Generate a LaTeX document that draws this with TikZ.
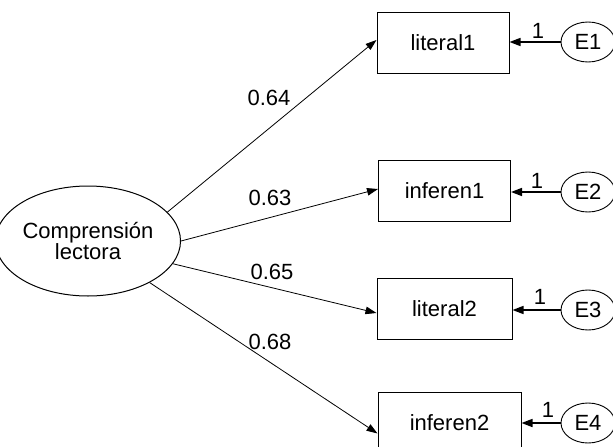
\documentclass[tikz,border=0pt]{standalone}
\usepackage{fontspec}
\setmainfont{Liberation Sans}
\usetikzlibrary{arrows.meta,shapes.geometric}
\begin{document}
\begin{tikzpicture}[x=1pt,y=-1pt,
  txt/.style={font=\fontsize{22}{21}\selectfont},
  obs/.style={draw,line width=1pt,minimum width=132pt,minimum height=61pt,inner sep=0pt,txt},
  err/.style={draw,ellipse,line width=0.9pt,minimum width=54pt,minimum height=40pt,inner sep=0pt,txt},
  path/.style={line width=0.8pt,-{Triangle[length=11pt,width=7.5pt]}},
  epath/.style={line width=1.6pt,-{Triangle[length=11pt,width=8pt]}},
  lab/.style={txt,inner sep=0pt}]
\useasboundingbox (0,0) rectangle (613,447);
\node[draw,ellipse,line width=1pt,minimum width=160pt,minimum height=110pt,inner sep=0pt,txt,align=center] (CL) at (88,241) {Comprensión\\lectora};
\node[obs] (lit1) at (443,42.5) {literal1};
\node[obs,minimum width=132pt] (inf1) at (444.5,191) {inferen1};
\node[obs,minimum width=135pt] (lit2) at (444.5,309) {literal2};
\node[obs,minimum width=143pt] (inf2) at (449.5,422.5) {inferen2};
\node[err] (E1) at (588,42) {E1};
\node[err] (E2) at (588,192) {E2};
\node[err] (E3) at (588,310) {E3};
\node[err] (E4) at (588,423) {E4};
\draw[path] (CL.20) -- ([yshift=2.5pt]lit1.west);
\draw[path] (CL.0) -- ([yshift=2pt]inf1.west);
\draw[path] (CL.-15) -- ([yshift=-4pt]lit2.west);
\draw[path] (CL.-34) -- ([yshift=-11pt]inf2.west);
\draw[epath] (E1.west) -- (E1.west -| lit1.east);
\draw[epath] (E2.west) -- (E2.west -| inf1.east);
\draw[epath] (E3.west) -- (E3.west -| lit2.east);
\draw[epath] (E4.west) -- (E4.west -| inf2.east);
\node[lab] (l1) at (538,31) {1};
\node[lab] (l2) at (537,181) {1};
\node[lab] (l3) at (540,297) {1};
\node[lab] (l4) at (548,410) {1};
\node[lab] (p1) at (269,98) {0.64};
\node[lab] (p2) at (270,198) {0.63};
\node[lab] (p3) at (272,272) {0.65};
\node[lab] (p4) at (270,342) {0.68};
\end{tikzpicture}
\end{document}
